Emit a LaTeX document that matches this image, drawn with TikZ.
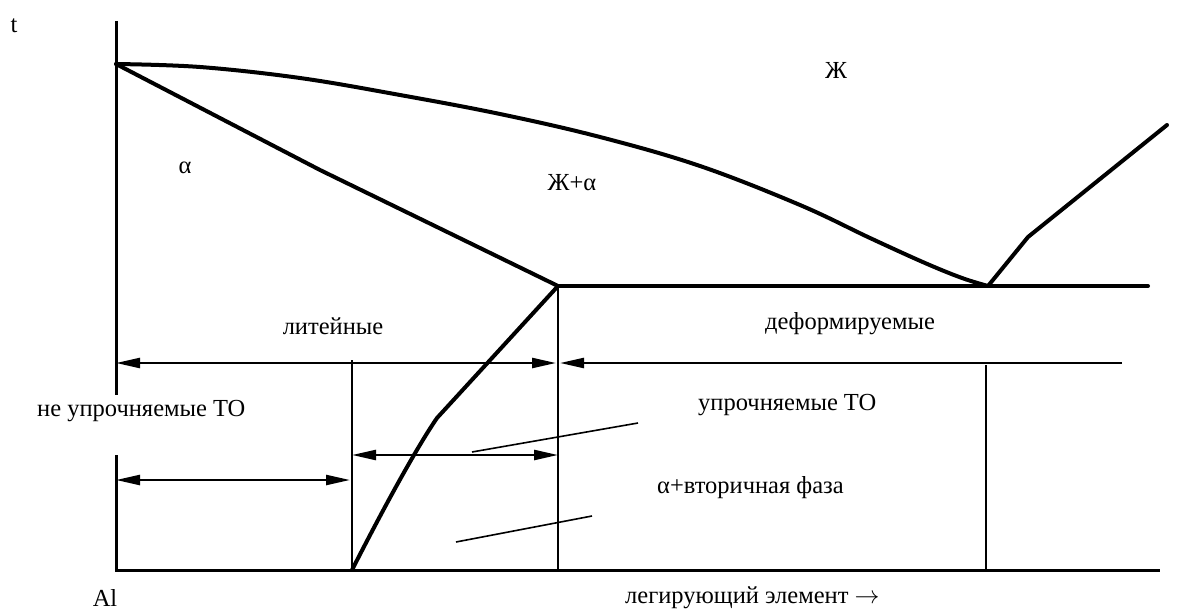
\documentclass[tikz,border=0pt]{standalone}
\usepackage{fontspec}
\setmainfont{Liberation Serif}
\usetikzlibrary{arrows.meta}
\begin{document}
\begin{tikzpicture}[x=1pt,y=-1pt,
  curve/.style={line width=4pt, line join=round, line cap=round},
  axisline/.style={line width=3pt},
  thinline/.style={line width=2pt},
  leader/.style={line width=1.6pt},
  tipR/.style={-{Triangle[length=24pt,width=10pt]}},
  dimline/.style={line width=2.4pt},
  lbl/.style={font=\fontsize{24.5}{29}\selectfont, inner sep=0pt}]
\useasboundingbox (0,0) rectangle (1177,610);
% key points
\coordinate (axtop) at (116,21);
\coordinate (axbreakA) at (116,395);
\coordinate (axbreakB) at (116,455);
\coordinate (orig) at (116,570);
\coordinate (axend) at (1160,570);
\coordinate (tm) at (116,64);
\coordinate (sol) at (320,170);
\coordinate (eut) at (558,286);
\coordinate (eutR) at (1148,286);
\coordinate (per) at (988,286);
\coordinate (rk) at (1028,237);
\coordinate (rend) at (1167,125);
\coordinate (sv) at (437,418);
\coordinate (svend) at (352,570);
% axes
\draw[axisline] (axtop) -- (axbreakA);
\draw[axisline] (axbreakB) -- (orig) -- (axend);
% liquidus
\draw[curve] plot[smooth, tension=0.6] coordinates {(116,64) (200,67) (300,78) (400,95) (500,114) (600,137) (700,166) (800,205) (870,238) (925,263) (962,278) (988,286)};
\draw[curve] (per) -- (rk) -- (rend);
% solidus
\draw[curve] (tm) -- (sol) -- (eut);
% eutectic
\draw[curve] (eut) -- (eutR);
% solvus
\draw[curve] (eut) -- (sv) .. controls (415,450) and (380,515) .. (svend);
% verticals
\coordinate (v1t) at (352,360);
\coordinate (v1b) at (352,570);
\coordinate (v2b) at (558,570);
\coordinate (v3t) at (986,365);
\coordinate (v3b) at (986,570);
\draw[thinline] (v1t) -- (v1b);
\draw[thinline] (eut) -- (v2b);
\draw[thinline] (v3t) -- (v3b);
% dimension arrows
\coordinate (a1l) at (116,363);
\coordinate (a1r) at (556,363);
\coordinate (a2l) at (560,363);
\coordinate (a2r) at (1122,363);
\coordinate (a3l) at (352,455);
\coordinate (a3r) at (558,455);
\coordinate (a4l) at (116,480);
\coordinate (a4r) at (350,480);
\draw[dimline, {Triangle[length=24pt,width=10pt]}-{Triangle[length=24pt,width=10pt]}] (a1l) -- (a1r);
\draw[dimline, tipR] (a2r) -- (a2l);
\draw[dimline, {Triangle[length=24pt,width=10pt]}-{Triangle[length=24pt,width=10pt]}] (a3l) -- (a3r);
\draw[dimline, {Triangle[length=24pt,width=10pt]}-{Triangle[length=24pt,width=10pt]}] (a4l) -- (a4r);
% leaders
\coordinate (l1a) at (472,452);
\coordinate (l1b) at (638,423);
\coordinate (l2a) at (456,542);
\coordinate (l2b) at (592,516);
\draw[leader] (l1a) -- (l1b);
\draw[leader] (l2a) -- (l2b);
% labels
\node[lbl] (t) at (14,26) {t};
\node[lbl] (al) at (105,598) {Al};
\node[lbl, anchor=west] (leg) at (625,598) {легирующий элемент $\rightarrow$};
\node[lbl] (lit) at (333,326) {литейные};
\node[lbl] (def) at (850,324) {деформируемые};
\node[lbl, anchor=west] (upr) at (698,405) {упрочняемые ТО};
\node[lbl, anchor=west] (neupr) at (37,411) {не упрочняемые ТО};
\node[lbl, anchor=west] (vtor) at (657,488) {α+вторичная фаза};
\node[lbl] (zh) at (836,70) {Ж};
\node[lbl] (alpha) at (185,168) {α};
\node[lbl] (zha) at (572,183) {Ж+α};
\end{tikzpicture}
\end{document}
